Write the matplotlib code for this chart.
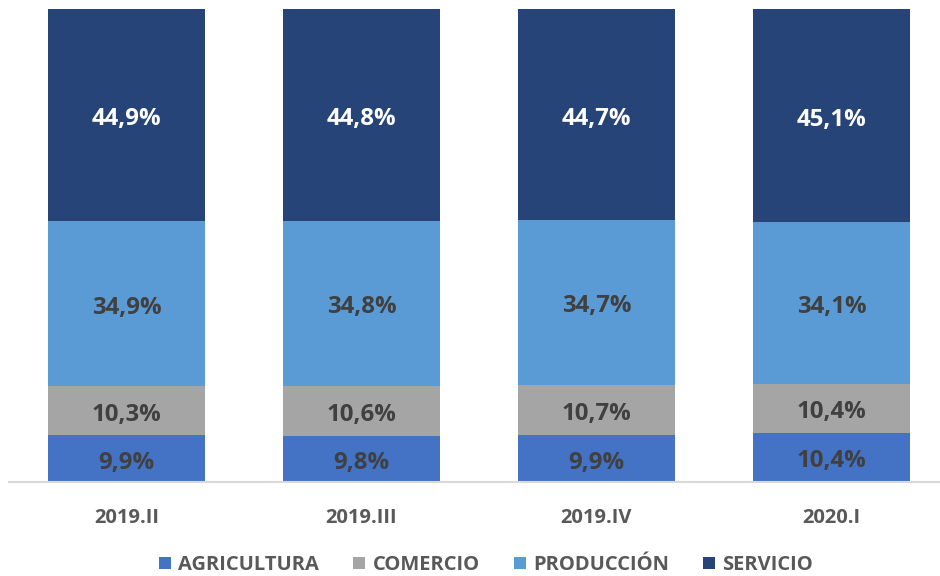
import matplotlib
matplotlib.use("Agg")
import matplotlib.pyplot as plt
import matplotlib.transforms as mtransforms
from matplotlib.patches import Patch

plt.rcParams['font.family'] = ['Open Sans', 'DejaVu Sans']

categories = ["2019.II", "2019.III", "2019.IV", "2020.I"]
series_names = ["AGRICULTURA", "COMERCIO", "PRODUCCIÓN", "SERVICIO"]
agricultura = [9.9, 9.8, 9.9, 10.4]
comercio = [10.3, 10.6, 10.7, 10.4]
produccion = [34.9, 34.8, 34.7, 34.1]
servicio = [44.9, 44.8, 44.7, 45.1]
series = [agricultura, comercio, produccion, servicio]
colors = ["#4472C4", "#A5A5A5", "#5B9BD5", "#264478"]
label_colors = ["#404040", "#404040", "#404040", "#FFFFFF"]

fig = plt.figure(figsize=(9.4, 5.76), dpi=100)
ax = fig.add_axes([9/940, 1-482/576, 940/940, (482-9)/576])

shift = mtransforms.ScaledTranslation(0, -4/100, fig.dpi_scale_trans)
x = list(range(len(categories)))
bottom = [0.0]*len(categories)
for vals, col, lc in zip(series, colors, label_colors):
    bars = ax.bar(x, vals, width=0.668, bottom=bottom, color=col, edgecolor='none')
    for xi, b, v in zip(x, bottom, vals):
        ax.text(xi, b + v/2, f"{v:.1f}%".replace('.', ','), ha='center', va='center',
                fontsize=17.3, fontweight='bold', color=lc,
                transform=ax.transData + shift)
    bottom = [b + v for b, v in zip(bottom, vals)]

ax.set_xlim(-0.5, 3.5)
ax.set_ylim(0, 100)
for s in ['top', 'right', 'left']:
    ax.spines[s].set_visible(False)
ax.spines['bottom'].set_color('#D9D9D9')
ax.spines['bottom'].set_linewidth(1.5)
ax.set_yticks([])
ax.set_xticks(x)
ax.set_xticklabels(categories, fontsize=14.5, fontweight='bold', color='#595959')
ax.tick_params(axis='x', length=0, pad=19)

handles = [Patch(facecolor=c, edgecolor='none') for c in colors]
fig.legend(handles, series_names, loc='center', bbox_to_anchor=(486/940, 1-565/576),
           ncol=4, frameon=False, prop={'weight': 'bold', 'size': 14.5},
           handlelength=0.6, handleheight=0.6, handletextpad=0.35, columnspacing=1.7,
           labelcolor='#595959', borderaxespad=0, borderpad=0.2)

fig.savefig("out.png", dpi=100)
